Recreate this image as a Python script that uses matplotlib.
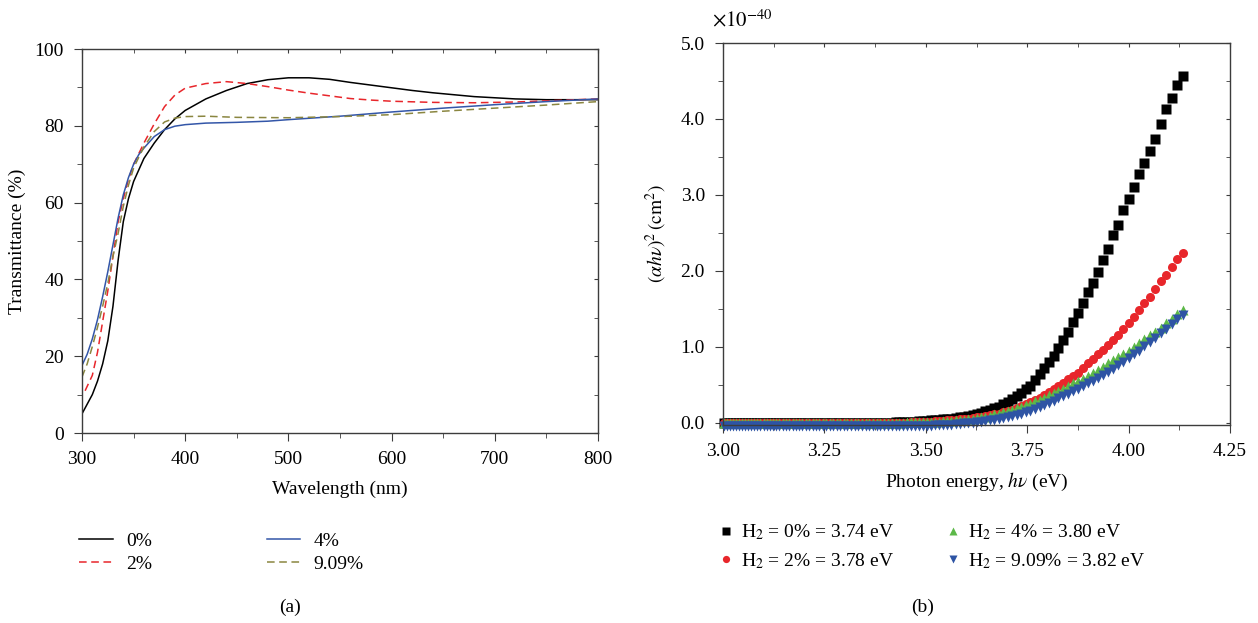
import numpy as np
import matplotlib
matplotlib.use("Agg")
import matplotlib.pyplot as plt
from matplotlib.ticker import MultipleLocator, FormatStrFormatter

plt.rcParams['font.family'] = ['Liberation Serif', 'DejaVu Serif']
plt.rcParams['mathtext.fontset'] = 'stix'
plt.rcParams['font.size'] = 14

# ---- panel (a): transmittance spectra ----
wl_0 = [300, 305, 310, 315, 320, 325, 330, 335, 340, 345, 350, 360, 370, 380, 390, 400,
        420, 440, 460, 480, 500, 520, 540, 560, 580, 600, 620, 640, 660, 680, 700, 720, 750, 800]
t_0 = [5, 7.5, 10, 13.5, 18, 24, 33, 45, 55, 61, 65.5, 71.5, 75.5, 79, 81.8, 84,
       87, 89.2, 91, 92, 92.5, 92.5, 92.1, 91.3, 90.6, 89.9, 89.2, 88.6, 88.1, 87.6, 87.3, 87.0, 86.8, 86.8]

wl_2 = [303, 310, 315, 320, 325, 330, 335, 340, 345, 350, 360, 365, 370, 380, 390, 400,
        420, 440, 460, 480, 500, 520, 540, 560, 580, 600, 640, 680, 720, 760, 800]
t_2 = [11, 15, 21, 29, 37, 46, 55, 61, 66, 70, 75.5, 78, 80.5, 85, 88, 89.8,
       91, 91.5, 91, 90.2, 89.3, 88.5, 87.8, 87.1, 86.7, 86.4, 86.1, 86, 86.2, 86.6, 87]

wl_4 = [300, 305, 310, 315, 320, 325, 330, 335, 340, 345, 350, 355, 360, 370, 380, 390, 400,
        420, 450, 480, 500, 550, 600, 650, 700, 750, 800]
t_4 = [17.6, 20.5, 24.5, 29.5, 35.5, 42, 49, 56, 62, 66.5, 70, 72.5, 74.2, 77.2, 79, 79.9, 80.3,
       80.7, 80.9, 81.2, 81.6, 82.5, 83.6, 84.6, 85.5, 86.3, 87]

wl_9 = [300, 305, 310, 315, 320, 325, 330, 335, 340, 345, 350, 355, 360, 370, 380, 390, 400,
        420, 450, 500, 550, 600, 650, 700, 750, 800]
t_9 = [14.6, 18, 22.5, 27.5, 33, 39, 46, 52, 59, 64.5, 69, 71.8, 74.5, 78.5, 81, 82, 82.4,
       82.5, 82.2, 82.1, 82.4, 82.9, 83.8, 84.6, 85.4, 86.3]

# ---- panel (b): Tauc plot, one point per nm from 300 nm to 413 nm ----
wl_b = np.arange(300, 414)
energy = 1240.0 / wl_b

tauc_0 = [4.56, 4.45, 4.28, 4.13, 3.93, 3.74, 3.58, 3.42, 3.27, 3.10,
          2.95, 2.80, 2.61, 2.47, 2.29, 2.14, 1.99, 1.84, 1.72, 1.58,
          1.45, 1.33, 1.20, 1.09, 0.98, 0.88, 0.80, 0.72, 0.64, 0.56,
          0.49, 0.44, 0.39, 0.35, 0.31, 0.27, 0.24, 0.21, 0.19, 0.17,
          0.15, 0.13, 0.115, 0.10, 0.09, 0.08, 0.07, 0.06, 0.055, 0.05,
          0.045, 0.04, 0.035, 0.03, 0.025, 0.02, 0.018, 0.015, 0.012, 0.01,
          0.008, 0.006, 0.004, 0.002, 0.0, 0.0, -0.002, -0.004, -0.005, -0.006,
          -0.008, -0.01, -0.01, -0.01, -0.01, -0.01, -0.01, -0.01, -0.01, -0.01,
          -0.01, -0.01, -0.01, -0.01, -0.01, -0.01, -0.01, -0.01, -0.01, -0.01,
          -0.01, -0.01, -0.01, -0.01, -0.01, -0.01, -0.01, -0.01, -0.01, -0.01,
          -0.01, -0.01, -0.01, -0.01, -0.01, -0.01, -0.01, -0.01, -0.01, -0.01,
          -0.01, -0.01, -0.01, -0.01]

tauc_2 = [2.24, 2.15, 2.05, 1.95, 1.86, 1.76, 1.66, 1.57, 1.48, 1.39,
          1.31, 1.23, 1.16, 1.09, 1.02, 0.96, 0.90, 0.84, 0.78, 0.72,
          0.66, 0.62, 0.57, 0.52, 0.48, 0.44, 0.40, 0.37, 0.33, 0.30,
          0.27, 0.25, 0.22, 0.20, 0.17, 0.15, 0.14, 0.12, 0.11, 0.10,
          0.09, 0.08, 0.07, 0.065, 0.055, 0.05, 0.045, 0.04, 0.035, 0.03,
          0.025, 0.02, 0.018, 0.015, 0.012, 0.01, 0.008, 0.006, 0.004, 0.002,
          0.0, -0.002, -0.004, -0.006, -0.008, -0.01, -0.01, -0.01, -0.01, -0.01,
          -0.01, -0.01, -0.01, -0.01, -0.01, -0.01, -0.01, -0.01, -0.01, -0.01,
          -0.01, -0.01, -0.01, -0.01, -0.01, -0.01, -0.01, -0.01, -0.01, -0.01,
          -0.01, -0.01, -0.01, -0.01, -0.01, -0.01, -0.01, -0.01, -0.01, -0.01,
          -0.01, -0.01, -0.01, -0.01, -0.01, -0.01, -0.01, -0.01, -0.01, -0.01,
          -0.01, -0.01, -0.01, -0.01]

tauc_4 = [1.49, 1.43, 1.37, 1.31, 1.25, 1.20, 1.15, 1.10, 1.05, 1.00,
          0.95, 0.91, 0.87, 0.82, 0.78, 0.74, 0.70, 0.66, 0.62, 0.58,
          0.55, 0.52, 0.48, 0.45, 0.42, 0.39, 0.36, 0.33, 0.30, 0.28,
          0.25, 0.23, 0.21, 0.19, 0.17, 0.15, 0.14, 0.12, 0.11, 0.09,
          0.08, 0.07, 0.06, 0.05, 0.045, 0.04, 0.035, 0.03, 0.025, 0.02,
          0.02, 0.015, 0.015, 0.01, 0.01, 0.01, 0.005, 0.005, 0.005, 0.005,
          0.0, 0.0, 0.0, 0.0, 0.0, 0.0, 0.0, 0.0, 0.0, 0.0,
          0.0, 0.0, 0.0, 0.0, 0.0, 0.0, 0.0, 0.0, 0.0, 0.0,
          0.0, 0.0, 0.0, 0.0, 0.0, 0.0, 0.0, 0.0, 0.0, 0.0,
          0.0, 0.0, 0.0, 0.0, 0.0, 0.0, 0.0, 0.0, 0.0, 0.0,
          0.0, 0.0, 0.0, 0.0, 0.0, 0.0, 0.0, 0.0, 0.0, 0.0,
          0.0, 0.0, 0.0, 0.0]

tauc_9 = [1.42, 1.36, 1.30, 1.24, 1.18, 1.12, 1.06, 1.01, 0.95, 0.90,
          0.85, 0.80, 0.76, 0.71, 0.67, 0.63, 0.59, 0.55, 0.52, 0.48,
          0.45, 0.42, 0.38, 0.35, 0.32, 0.29, 0.26, 0.23, 0.21, 0.18,
          0.16, 0.14, 0.12, 0.10, 0.085, 0.07, 0.06, 0.05, 0.04, 0.03,
          0.02, 0.015, 0.01, 0.0, -0.005, -0.01, -0.015, -0.02, -0.025, -0.028,
          -0.03, -0.033, -0.035, -0.037, -0.04, -0.04, -0.042, -0.043, -0.044, -0.045,
          -0.045, -0.045, -0.045, -0.045, -0.045, -0.045, -0.045, -0.045, -0.045, -0.045,
          -0.045, -0.045, -0.045, -0.045, -0.045, -0.045, -0.045, -0.045, -0.045, -0.045,
          -0.045, -0.045, -0.045, -0.045, -0.045, -0.045, -0.045, -0.045, -0.045, -0.045,
          -0.045, -0.045, -0.045, -0.045, -0.045, -0.045, -0.045, -0.045, -0.045, -0.045,
          -0.045, -0.045, -0.045, -0.045, -0.045, -0.045, -0.045, -0.045, -0.045, -0.045,
          -0.045, -0.045, -0.045, -0.045]

labels_a = ["0%", "2%", "4%", "9.09%"]
labels_b = ["H$_2$ = 0% = 3.74 eV", "H$_2$ = 2% = 3.78 eV",
            "H$_2$ = 4% = 3.80 eV", "H$_2$ = 9.09% = 3.82 eV"]

spine_col = "#3c3c3c"


def style_axes(ax, xmaj, xmin, ymaj, ymin):
    for s in ax.spines.values():
        s.set_color(spine_col)
        s.set_linewidth(1.0)
    ax.xaxis.set_major_locator(MultipleLocator(xmaj))
    ax.xaxis.set_minor_locator(MultipleLocator(xmin))
    ax.yaxis.set_major_locator(MultipleLocator(ymaj))
    ax.yaxis.set_minor_locator(MultipleLocator(ymin))
    ax.tick_params(which="both", direction="out", color=spine_col, labelsize=14, pad=7)
    ax.tick_params(which="major", length=6)
    ax.tick_params(which="minor", length=3.5)
    # short inward ticks on the top and right frame
    top = ax.secondary_xaxis("top")
    top.xaxis.set_major_locator(MultipleLocator(xmaj))
    top.xaxis.set_minor_locator(MultipleLocator(xmin))
    top.tick_params(which="both", direction="in", length=3, color=spine_col, labeltop=False)
    top.spines["top"].set_visible(False)
    right = ax.secondary_yaxis("right")
    right.yaxis.set_major_locator(MultipleLocator(ymaj))
    right.yaxis.set_minor_locator(MultipleLocator(ymin))
    right.tick_params(which="both", direction="in", length=3, color=spine_col, labelright=False)
    right.spines["right"].set_visible(False)


fig = plt.figure(figsize=(12.58, 6.23), dpi=100)

ax1 = fig.add_axes([82 / 1258, 1 - 433 / 623, (598 - 82) / 1258, (433 - 49) / 623])
ax1.plot(wl_0, t_0, color="black", lw=1.1, label=labels_a[0])
ax1.plot(wl_2, t_2, color="#e8262b", lw=1.1, ls=(0, (5, 3)), label=labels_a[1])
ax1.plot(wl_4, t_4, color="#3356a8", lw=1.1, label=labels_a[2])
ax1.plot(wl_9, t_9, color="#8a8640", lw=1.1, ls=(0, (5, 3)), label=labels_a[3])
ax1.set_xlim(300, 800)
ax1.set_ylim(0, 100)
style_axes(ax1, 100, 50, 20, 10)
ax1.set_xlabel("Wavelength (nm)", fontsize=14, labelpad=9)
ax1.set_ylabel("Transmittance (%)", fontsize=14, labelpad=6)
ax1.legend(loc="upper left", bbox_to_anchor=(-0.02, -0.238), ncol=2, frameon=False,
           fontsize=14, handlelength=1.7, handletextpad=0.7, columnspacing=5.9,
           labelspacing=0.3, borderaxespad=0)
fig.text(290 / 1258, 1 - 607 / 623, "(a)", ha="center", va="center", fontsize=14)

ax2 = fig.add_axes([723 / 1258, 1 - 425 / 623, (1230 - 723) / 1258, (425 - 43) / 623])
ms = 6.5
ax2.plot(energy, tauc_0, ls="none", marker="s", ms=ms, color="black", mec="none",
         clip_on=False, label=labels_b[0])
ax2.plot(energy, tauc_2, ls="none", marker="o", ms=ms, color="#e8262b", mec="none",
         clip_on=False, label=labels_b[1])
ax2.plot(energy, tauc_4, ls="none", marker="^", ms=7.5, color="#5cb848", mec="none",
         clip_on=False, label=labels_b[2])
ax2.plot(energy, tauc_9, ls="none", marker="v", ms=7.5, color="#2e54a4", mec="none",
         clip_on=False, label=labels_b[3])
ax2.set_xlim(3.0, 4.25)
ax2.set_ylim(-0.03, 5.0)
style_axes(ax2, 0.25, 0.125, 1.0, 0.5)
ax2.xaxis.set_major_formatter(FormatStrFormatter("%.2f"))
ax2.yaxis.set_major_formatter(FormatStrFormatter("%.1f"))
ax2.set_xlabel("Photon energy, $h\\nu$ (eV)", fontsize=14, labelpad=8)
ax2.set_ylabel("$(\\alpha h\\nu)^2\\,(\\mathrm{cm}^2)$", fontsize=14, labelpad=8)
ax2.text(-0.022, 1.03, "$\\times10^{-40}$", transform=ax2.transAxes, fontsize=15,
         ha="left", va="bottom")
ax2.legend(loc="upper left", bbox_to_anchor=(-0.025, -0.235), ncol=2, frameon=False,
           fontsize=14, handlelength=0.8, handletextpad=0.4, columnspacing=2.6,
           labelspacing=0.45, borderaxespad=0, markerscale=0.8)
fig.text(923 / 1258, 1 - 607 / 623, "(b)", ha="center", va="center", fontsize=14)

fig.savefig("out.png", dpi=100)
